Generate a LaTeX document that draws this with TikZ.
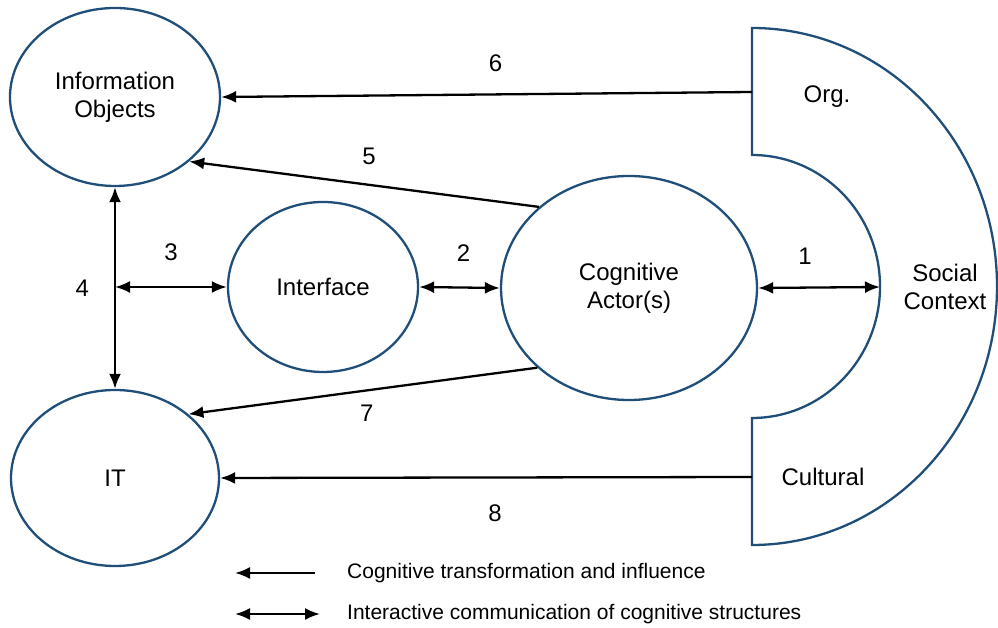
\documentclass[tikz,border=0pt]{standalone}
\usepackage{fontspec}
\setmainfont{Liberation Sans}
\usepackage{xcolor}
\usepackage{tikz}
\usetikzlibrary{shapes,arrows.meta,positioning,calc}
\definecolor{ctxblue}{RGB}{31,78,121}

\begin{document}
\begin{tikzpicture}[x=1pt, y=1pt,
    ent/.style={ellipse, draw=ctxblue, line width=2.3pt, inner sep=0pt, align=center, font=\fontsize{24}{28}\selectfont},
    infl/.style={-{Latex[length=15pt,width=12pt]}, line width=2.3pt},
    comm/.style={{Latex[length=15pt,width=12pt]}-{Latex[length=15pt,width=12pt]}, line width=2.3pt},
    num/.style={inner sep=0pt, font=\fontsize{24}{28}\selectfont},
    txt/.style={inner sep=0pt, align=center, font=\fontsize{24}{28}\selectfont}]
    \useasboundingbox (0,0) rectangle (998,628);

    % entities
    \node[ent, minimum width=210, minimum height=178] (io) at (115,531) {Information\\Objects};
    \node[ent, minimum width=208, minimum height=176] (it) at (115,150) {IT};
    \node[ent, minimum width=190, minimum height=170] (if) at (323,341) {Interface};
    \node[ent, minimum width=256, minimum height=224] (ca) at (629,340) {Cognitive\\Actor(s)};

    % social context
    \draw[ctxblue, line width=2.3pt] (752,600) -- (752,473)
        arc[start angle=90, end angle=-90, x radius=128, y radius=131.5] -- (752,83)
        arc[start angle=-90, end angle=90, x radius=245, y radius=258.5] -- cycle;
    \coordinate (org) at (752,536);
    \coordinate (cul) at (752,151);
    \coordinate (inner) at (880,341);
    \node[txt] (orgtxt) at (827,531) {Org.};
    \node[txt] (cultxt) at (823,151) {Cultural};
    \node[txt] (soc) at (945,341) {Social\\Context};

    % connectors
    \draw[comm] (ca.east) -- (inner) node[num, midway, above=22, xshift=-14] (l1) {1};
    \draw[comm] (if.east) -- (ca.west) node[num, midway, above=25, xshift=4] (l2) {2};
    \draw[comm] (io.south |- if.west) -- (if.west) node[num, midway, above=25] (l3) {3};
    \draw[comm] (io.south) -- (it.north) node[num, midway, left=25] (l4) {4};
    \draw[infl] (ca.138) -- (io.-41) node[num, midway, above=18, xshift=5] (l5) {5};
    \draw[infl] (org) -- (io.east) node[num, midway, above=22, xshift=9] (l6) {6};
    \draw[infl] (ca.-139) -- (it.41) node[num, midway, below=13, xshift=4] (l7) {7};
    \draw[infl] (cul) -- (it.east) node[num, midway, below=26, xshift=9] (l8) {8};

    % legend
    \coordinate (k1a) at (315,55);
    \coordinate (k1b) at (235,55);
    \coordinate (k2a) at (235,14);
    \coordinate (k2b) at (320,14);
    \draw[infl] (k1a) -- (k1b);
    \draw[comm] (k2a) -- (k2b);
    \node[inner sep=0pt, anchor=west, font=\fontsize{21}{25}\selectfont] (key1) at (347,55) {Cognitive transformation and influence};
    \node[inner sep=0pt, anchor=west, font=\fontsize{21}{25}\selectfont] (key2) at (347,14) {Interactive communication of cognitive structures};
\end{tikzpicture}
\end{document}
